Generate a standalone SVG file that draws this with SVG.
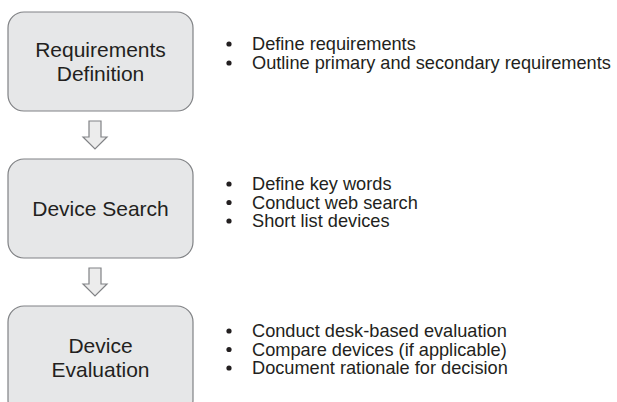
<svg xmlns="http://www.w3.org/2000/svg" width="617" height="402" viewBox="0 0 617 402">
<style>
.box{fill:#e6e7e8;stroke:#808285;stroke-width:1.2}
.bt{font-family:"Liberation Sans",Arial,sans-serif;font-size:21px;fill:#231f20;text-anchor:middle}
.lt{font-family:"Liberation Sans",Arial,sans-serif;font-size:18.2px;fill:#231f20}
.dot{fill:#231f20}
.arr{fill:#ececec;stroke:#808285;stroke-width:1.2;stroke-linejoin:miter}
</style>
<rect width="617" height="402" fill="#ffffff"/>
<g id="node-requirements">
<rect class="box" x="8" y="12" width="185" height="99" rx="16"/>
<text class="bt" x="100.5" y="57">Requirements</text>
<text class="bt" x="100.5" y="81">Definition</text>
<circle class="dot" cx="229" cy="44" r="2.6"/>
<circle class="dot" cx="229" cy="63" r="2.6"/>
<text class="lt" x="252" y="50">Define requirements</text>
<text class="lt" x="252" y="69">Outline primary and secondary requirements</text>
</g>
<g id="node-search">
<rect class="box" x="8" y="159" width="185" height="99" rx="16"/>
<text class="bt" x="100.5" y="216">Device Search</text>
<circle class="dot" cx="229" cy="184" r="2.6"/>
<circle class="dot" cx="229" cy="202.5" r="2.6"/>
<circle class="dot" cx="229" cy="221" r="2.6"/>
<text class="lt" x="252" y="190">Define key words</text>
<text class="lt" x="252" y="208.5">Conduct web search</text>
<text class="lt" x="252" y="227">Short list devices</text>
</g>
<g id="node-evaluation">
<rect class="box" x="8" y="306" width="185" height="110" rx="16"/>
<text class="bt" x="100.5" y="353">Device</text>
<text class="bt" x="100.5" y="377">Evaluation</text>
<circle class="dot" cx="229" cy="331" r="2.6"/>
<circle class="dot" cx="229" cy="349.5" r="2.6"/>
<circle class="dot" cx="229" cy="368" r="2.6"/>
<text class="lt" x="252" y="337">Conduct desk-based evaluation</text>
<text class="lt" x="252" y="355.5">Compare devices (if applicable)</text>
<text class="lt" x="252" y="374">Document rationale for decision</text>
</g>
<g id="connectors">
<path class="arr" d="M89,121 H101 V137 H107 L95,149 L83,137 H89 Z"/>
<path class="arr" d="M89,268 H101 V284 H107 L95,296 L83,284 H89 Z"/>
</g>
</svg>
